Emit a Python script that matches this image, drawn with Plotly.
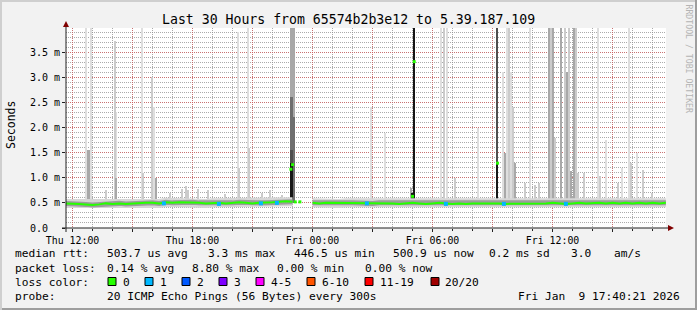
import numpy as np
import pandas as pd
import plotly.graph_objects as go

# ---------------- data ----------------
START = "2026-01-08 11:40:21"
END = "2026-01-09 17:40:21"
DAY = {"Thu": "2026-01-08", "Fri": "2026-01-09"}


def ts(s):
    d, hm = s.split()
    return pd.Timestamp(f"{DAY[d]} {hm}")


# median rtt (ms), one reading every 20 minutes starting Thu 11:40 (None = no data)
median_ms = [
    0.49, 0.49, 0.48, 0.47, 0.46, 0.47, 0.49, 0.48, 0.49, 0.48,
    0.49, 0.49, 0.50, 0.50, 0.49, 0.51, 0.50, 0.51, 0.51, 0.51,
    0.50, 0.49, 0.50, 0.50, 0.49, 0.50, 0.51, 0.50, 0.49, 0.50,
    0.50, 0.51, 0.52, 0.53, 0.52, None, None, 0.50, 0.49, 0.50,
    0.50, 0.49, 0.50, 0.50, 0.49, 0.50, 0.49, 0.50, 0.50, 0.49,
    0.48, 0.49, 0.50, 0.49, 0.48, 0.49, 0.50, 0.49, 0.48, 0.49,
    0.48, 0.49, 0.49, 0.50, 0.49, 0.49, 0.48, 0.48, 0.49, 0.49,
    0.48, 0.49, 0.49, 0.50, 0.49, 0.48, 0.49, 0.50, 0.49, 0.50,
    0.50, 0.49, 0.50, 0.49, 0.50, 0.49, 0.50, 0.49, 0.50, 0.49,
    0.50,
]
median_times = pd.date_range("2026-01-08 11:40", periods=len(median_ms), freq="20min")

# median readings off the baseline (spikes / isolated samples), ms
spike_med_t = ["Thu 22:55", "Thu 23:00", "Thu 23:08", "Thu 23:22", "Fri 05:00", "Fri 05:05", "Fri 09:15"]
spike_med_v = [1.17, 1.26, 0.52, 0.52, 0.63, 3.31, 1.29]

# median samples with 1 lost ping (blue), ms
loss1_t = ["Thu 16:34", "Thu 19:19", "Thu 21:25", "Thu 22:13", "Fri 02:43", "Fri 06:40", "Fri 09:34", "Fri 12:40"]
loss1_v = [0.49, 0.48, 0.49, 0.50, 0.49, 0.48, 0.48, 0.48]

# smoke outliers: time of the 5-min step and top of the smoke (ms), per density
smoke_light_t = ["Thu 12:40", "Thu 12:55", "Thu 14:12", "Thu 15:28", "Thu 16:04", "Thu 20:16", "Thu 20:46",
                 "Fri 02:55", "Fri 03:37", "Fri 06:25", "Fri 06:43", "Fri 08:16", "Fri 09:31", "Fri 09:43",
                 "Fri 09:55", "Fri 10:52", "Fri 14:16", "Fri 14:40", "Fri 15:28", "Fri 15:49", "Fri 16:13"]
smoke_light_top = [4.5, 4.5, 2.3, 4.5, 2.4, 3.9, 4.5,
                   2.4, 1.9, 4.5, 4.5, 2.0, 3.1, 4.5,
                   3.1, 4.5, 4.5, 1.75, 1.2, 4.5, 1.5]

smoke_pale_t = ["Thu 13:40", "Thu 14:07", "Thu 15:33", "Thu 15:58", "Thu 16:52", "Thu 17:28", "Thu 17:41",
                "Thu 17:46", "Thu 18:16", "Thu 18:46", "Thu 19:37", "Thu 20:20", "Thu 20:51", "Thu 21:28",
                "Thu 21:52", "Thu 22:28", "Fri 06:34", "Fri 07:07", "Fri 09:49", "Fri 10:01", "Fri 10:37",
                "Fri 11:07", "Fri 11:19", "Fri 11:55", "Fri 12:07", "Fri 12:37", "Fri 12:49", "Fri 13:10",
                "Fri 13:16", "Fri 13:34", "Fri 14:22", "Fri 15:16", "Fri 15:55", "Fri 16:31", "Fri 16:58"]
smoke_pale_top = [0.75, 3.72, 1.1, 3.0, 0.7, 0.77, 0.83,
                  0.75, 0.78, 0.75, 0.68, 1.2, 1.6, 0.7,
                  0.75, 0.65, 4.5, 1.0, 4.5, 2.4, 0.9,
                  0.86, 0.9, 4.5, 1.8, 4.5, 4.5, 4.5,
                  1.1, 1.1, 1.03, 0.9, 1.3, 1.16, 0.7]

smoke_mid_t = ["Thu 12:46", "Thu 12:51", "Thu 14:12", "Thu 16:10", "Thu 22:55", "Thu 23:00", "Thu 23:05",
               "Fri 04:55", "Fri 09:37", "Fri 10:07", "Fri 11:49", "Fri 12:01", "Fri 12:25", "Fri 12:43",
               "Fri 12:55", "Fri 13:04"]
smoke_mid_top = [1.55, 1.55, 1.0, 1.0, 4.5, 4.5, 4.5,
                 0.8, 1.5, 1.3, 4.5, 4.5, 4.5, 3.1,
                 1.13, 4.5]

smoke_grey_t = ["Thu 22:55", "Thu 23:00", "Thu 23:05"]
smoke_grey_top = [2.6, 2.6, 2.2]

smoke_dark_t = ["Thu 22:55", "Thu 23:00", "Fri 09:15"]
smoke_dark_top = [1.55, 1.55, 4.5]

smoke_black_t = ["Thu 22:55", "Thu 23:00", "Fri 05:00", "Fri 05:05", "Fri 09:15"]
smoke_black_top = [1.3, 1.3, 0.7, 4.5, 1.29]

SMOKE_BASE_MS = 0.5

y_tick_ms = [0.0, 0.5, 1.0, 1.5, 2.0, 2.5, 3.0, 3.5]
y_tick_text = ["0.0\u00a0\u00a0", "0.5 m", "1.0 m", "1.5 m", "2.0 m", "2.5 m", "3.0 m", "3.5 m"]
x_major = ["Thu 12:00", "Thu 15:00", "Thu 18:00", "Thu 21:00", "Fri 00:00",
           "Fri 03:00", "Fri 06:00", "Fri 09:00", "Fri 12:00", "Fri 15:00"]
x_major_text = ["Thu 12:00", "", "Thu 18:00", "", "Fri 00:00", "", "Fri 06:00", "", "Fri 12:00", ""]

loss_labels = ["0", "1", "2", "3", "4-5", "6-10", "11-19", "20/20"]
loss_colors = ["#26ff00", "#00b8ff", "#0059ff", "#7e00ff", "#ff00ff", "#ff5500", "#ff0000", "#a00000"]

title = "Last 30 Hours from 65574b2b3e12 to 5.39.187.109"
rtt_line = [("median rtt:", 15), ("503.7 us avg", 106.5), ("3.3 ms max", 207.5), ("446.5 us min", 293.5),
            ("500.9 us now", 392.5), ("0.2 ms sd", 489), ("3.0", 570.5), ("am/s", 613.5)]
loss_line = [("packet loss:", 15), ("0.14 % avg", 106.5), ("8.80 % max", 191.5), ("0.00 % min", 277),
             ("0.00 % now", 364.5)]
probe_text = "20 ICMP Echo Pings (56 Bytes) every 300s"
date_text = "Fri Jan\u00a0\u00a09 17:40:21 2026"

# ---------------- layout helpers (pixels -> paper) ----------------
W, H = 697, 310
L, R, T, B = 66, 666, 28, 228


def px(x):
    return (x - L) / (R - L)


def py(y):
    return (B - y) / (B - T)


MONO = "DejaVu Sans Mono"
GRID = "rgba(143,143,143,0.75)"
MGRID = "rgba(222,79,79,0.6)"
AXIS = "#212121"
ARROW = "#800000"

ms = 1e-3
fig = go.Figure()

smoke_layers = [
    (smoke_light_t, smoke_light_top, "#dedede"),
    (smoke_pale_t, smoke_pale_top, "#cbcbcb"),
    (smoke_mid_t, smoke_mid_top, "#a8a8a8"),
    (smoke_grey_t, smoke_grey_top, "#6e6e6e"),
    (smoke_dark_t, smoke_dark_top, "#4e4e4e"),
    (smoke_black_t, smoke_black_top, "#161616"),
]
for tt, top, col in smoke_layers:
    fig.add_trace(go.Bar(
        x=[ts(s) for s in tt],
        y=(np.array(top) - SMOKE_BASE_MS) * ms,
        base=SMOKE_BASE_MS * ms,
        width=300000,
        marker=dict(color=col, line=dict(width=0)),
        hoverinfo="skip",
    ))

med_s = [None if v is None else v * ms for v in median_ms]
# baseline smoke around the median
fig.add_trace(go.Scatter(x=median_times, y=med_s, mode="lines",
                         line=dict(color="#d6d6d6", width=9), connectgaps=False, hoverinfo="skip"))
fig.add_trace(go.Scatter(x=median_times, y=med_s, mode="lines",
                         line=dict(color="#9c9c9c", width=5), connectgaps=False, hoverinfo="skip"))
# median line (0 loss)
fig.add_trace(go.Scatter(x=median_times, y=med_s, mode="lines",
                         line=dict(color=loss_colors[0], width=2), connectgaps=False))
fig.add_trace(go.Scatter(x=[ts(s) for s in spike_med_t], y=np.array(spike_med_v) * ms, mode="markers",
                         marker=dict(symbol="square", size=3, color=loss_colors[0], line=dict(width=0))))
fig.add_trace(go.Scatter(x=[ts(s) for s in loss1_t], y=np.array(loss1_v) * ms, mode="markers",
                         marker=dict(symbol="square", size=4, color=loss_colors[1], line=dict(width=0))))

shapes = []
# frame
shapes += [
    dict(type="rect", xref="paper", yref="paper", x0=px(0), x1=px(697), y0=py(0), y1=py(2),
         fillcolor="#cfcfcf", line=dict(width=0), layer="above"),
    dict(type="rect", xref="paper", yref="paper", x0=px(0), x1=px(2), y0=py(0), y1=py(310),
         fillcolor="#cfcfcf", line=dict(width=0), layer="above"),
    dict(type="rect", xref="paper", yref="paper", x0=px(695), x1=px(697), y0=py(0), y1=py(310),
         fillcolor="#9e9e9e", line=dict(width=0), layer="above"),
    dict(type="rect", xref="paper", yref="paper", x0=px(2), x1=px(697), y0=py(308), y1=py(310),
         fillcolor="#9e9e9e", line=dict(width=0), layer="above"),
]
# axes + arrows
shapes += [
    dict(type="line", xref="paper", yref="paper", x0=px(62), x1=px(670), y0=0, y1=0,
         line=dict(color=AXIS, width=1), layer="above"),
    dict(type="line", xref="paper", yref="paper", x0=0, x1=0, y0=py(232), y1=py(25),
         line=dict(color=AXIS, width=1), layer="above"),
    dict(type="path", xref="paper", yref="paper",
         path=f"M {px(668)} {py(225)} L {px(674)} {py(228)} L {px(668)} {py(231)} Z",
         fillcolor=ARROW, line=dict(width=0), layer="above"),
    dict(type="path", xref="paper", yref="paper",
         path=f"M {px(63)} {py(27)} L {px(66)} {py(21)} L {px(69)} {py(27)} Z",
         fillcolor=ARROW, line=dict(width=0), layer="above"),
]

annotations = []


def txt(text, x, y, size=11.2, anchor="left", color="#000", angle=0):
    annotations.append(dict(text=text, x=px(x), y=py(y), xref="paper", yref="paper",
                            xanchor=anchor, yanchor="middle", showarrow=False, textangle=angle,
                            borderpad=0, borderwidth=0,
                            font=dict(family=MONO, size=size, color=color)))


txt(title, 348, 19, size=13.2, anchor="center")
txt("Seconds", 11, 125, size=11.5, anchor="center", angle=-90)
txt("RRDTOOL / TOBI OETIKER", 688.5, 59, size=8.2, anchor="center", color="#b4b4b4", angle=90)

for s, x in rtt_line:
    txt(s.replace(" ", "\u00a0"), x, 254)
for s, x in loss_line:
    txt(s.replace(" ", "\u00a0"), x, 268)
txt("loss\u00a0color:", 15, 282)
box_x = [108, 145, 182, 219, 256, 307, 365, 431]
for lab, col, bx in zip(loss_labels, loss_colors, box_x):
    shapes.append(dict(type="rect", xref="paper", yref="paper", x0=px(bx), x1=px(bx + 8),
                       y0=py(285.5), y1=py(277.5), fillcolor=col, line=dict(color="#000", width=1),
                       layer="above"))
    txt(lab, bx + 14.5, 282)
txt("probe:", 15, 296)
txt(probe_text.replace(" ", "\u00a0"), 106.5, 296)
txt(date_text.replace(" ", "\u00a0"), 680, 296, anchor="right")

fig.update_layout(
    width=W, height=H,
    margin=dict(l=L, r=W - R, t=T, b=H - B, pad=0),
    paper_bgcolor="#f2f2f2", plot_bgcolor="#ffffff",
    showlegend=False, barmode="overlay", bargap=0,
    font=dict(family=MONO, size=9.9, color="#000"),
    shapes=shapes, annotations=annotations,
    xaxis=dict(
        type="date", range=[START, END], fixedrange=True,
        tickmode="array", tickvals=[ts(s) for s in x_major], ticktext=x_major_text,
        showgrid=True, gridcolor=MGRID, griddash="1px,1px", gridwidth=1,
        ticks="outside", ticklen=3, tickcolor=AXIS, tickwidth=1,
        showline=False, zeroline=False,
        tickfont=dict(family=MONO, size=9.9, color="#000"),
        minor=dict(dtick=3600000, tick0="2026-01-08 12:00", showgrid=True, gridcolor=GRID,
                   griddash="1px,1px", gridwidth=1, ticks="outside", ticklen=2, tickcolor=AXIS),
    ),
    yaxis=dict(
        range=[0, 3.98 * ms], fixedrange=True,
        tickmode="array", tickvals=[v * ms for v in y_tick_ms], ticktext=y_tick_text,
        showgrid=True, gridcolor=MGRID, griddash="1px,1px", gridwidth=1,
        ticks="outside", ticklen=3, tickcolor=AXIS, tickwidth=1,
        showline=False, zeroline=False,
        tickfont=dict(family=MONO, size=10, color="#000"),
        minor=dict(dtick=0.1 * ms, tick0=0, showgrid=True, gridcolor=GRID,
                   griddash="1px,1px", gridwidth=1),
    ),
)

fig.write_html("out.html")
